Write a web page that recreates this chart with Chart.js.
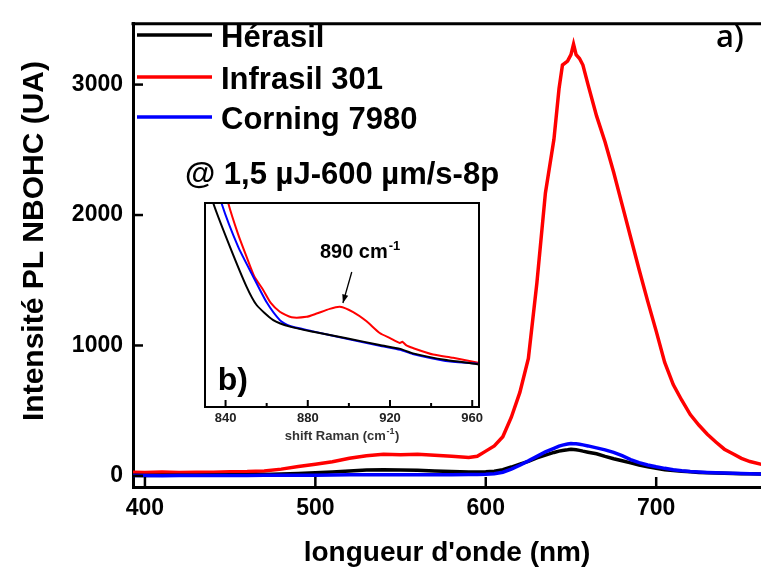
<!DOCTYPE html>
<html>
<head>
<meta charset="utf-8">
<script src="https://cdn.jsdelivr.net/npm/chart.js@4"></script>
<style>
  body { margin: 0; background: #fff; }
  #wrap { position: relative; width: 761px; height: 567px; overflow: hidden; }
  #main { position: absolute; left: 0; top: 0; }
  #inset { position: absolute; left: 195px; top: 195px; }
</style>
</head>
<body>
<div id="wrap">
  <canvas id="main" width="761" height="567"></canvas>
  <canvas id="inset" width="300" height="250"></canvas>
</div>
<script>
const FONT = "'Liberation Sans', Arial, sans-serif";

//******** Main spectrum (PL) ********
const wavelength = [393, 400, 410, 420, 430, 440, 450, 460, 470, 480, 490, 500, 510, 520, 530, 540, 550, 560, 570, 580,
  590, 595, 600, 605, 610, 615, 620, 625, 630, 635, 640, 643, 645, 648, 650, 651.5, 653, 655, 657, 660,
  665, 670, 675, 680, 685, 690, 695, 700, 705, 710, 715, 720, 725, 730, 735, 740, 745, 750, 755, 762];

const herasil = [5, 4, 6, 5, 6, 7, 8, 9, 11, 14, 18, 24, 30, 38, 45, 48, 46, 43, 38, 33,
  30, 30, 31, 36, 48, 68, 90, 112, 138, 160, 180, 190, 195, 200, 204, 202, 200, 196, 190, 182,
  170, 150, 132, 116, 100, 84, 70, 58, 48, 41, 35, 31, 27, 24, 22, 20, 18, 17, 16, 14];

const infrasil = [28, 27, 30, 27, 29, 28, 31, 33, 38, 52, 72, 90, 108, 135, 155, 166, 162, 166, 158, 150,
  142, 150, 190, 230, 300, 450, 640, 900, 1480, 2170, 2580, 2970, 3150, 3180, 3230, 3310, 3230, 3200, 3150, 3000,
  2760, 2560, 2330, 2080, 1830, 1580, 1340, 1110, 870, 700, 580, 470, 390, 320, 260, 205, 170, 135, 110, 88];

const corning = [3, 3, 2, 4, 3, 3, 4, 4, 5, 5, 6, 6, 7, 8, 8, 9, 9, 9, 9, 9,
  10, 10, 12, 16, 28, 52, 82, 115, 150, 185, 212, 228, 236, 244, 248, 247, 246, 243, 238, 230,
  215, 200, 180, 155, 125, 102, 84, 70, 58, 48, 40, 34, 30, 27, 24, 22, 20, 18, 16, 15];

const mainXTicks = [400, 500, 600, 700];
const mainYTicks = [0, 1000, 2000, 3000];

//******** Inset (Raman) ********
const ramanHerasilX = [832, 834, 842.1, 850.2, 855.1, 863.2, 871.3, 882.6, 898.9, 915, 925, 931.2, 947.5, 962, 965];
const ramanHerasilY = [110, 100, 78.6, 59.0, 50.0, 42.6, 39.4, 36.9, 33.7, 30.4, 28.5, 26.3, 23.0, 21.1, 20.5];

const ramanInfrasilX = [838, 841.3, 846, 850.2, 854, 858.3, 862, 866.4, 872.1, 879.4, 884.3, 890.7, 895.6, 902.1,
  908.6, 915, 920, 924.8, 926, 928, 931.2, 941, 950.7, 962.9, 965];
const ramanInfrasilY = [115, 100, 85, 73.7, 64, 57.4, 51, 46.7, 44.0, 44.2, 45.8, 48.1, 49.1, 46.5,
  42.0, 36.3, 33.8, 31.4, 32, 30.2, 28.9, 25.7, 24.1, 21.7, 21.5];

const ramanCorningX = [836, 838, 846.1, 853.4, 860, 866.4, 871, 882, 899, 915, 925, 931, 947, 962, 965];
const ramanCorningY = [110, 100, 78.6, 64.0, 51.3, 42.6, 39.8, 37.2, 33.4, 30.0, 28.0, 26.0, 22.6, 21.3, 20.8];

const insetXTicks = [840, 860, 880, 900, 920, 940, 960];
const insetXLabels = [840, 880, 920, 960];

const pts = (xs, ys) => xs.map((x, i) => ({ x: x, y: ys[i] }));

// frame, inward ticks, legend and texts of the main chart
const mainDecor = {
  id: 'mainDecor',
  afterDraw(chart) {
    const ctx = chart.ctx;
    const a = chart.chartArea;
    const x = chart.scales.x, y = chart.scales.y;
    ctx.save();
    ctx.strokeStyle = '#000';
    ctx.lineWidth = 3;
    ctx.beginPath();
    ctx.moveTo(a.left - 1.5, a.top);
    ctx.lineTo(a.right, a.top);
    ctx.stroke();

    ctx.lineWidth = 2.5;
    mainXTicks.forEach(v => {
      const px = x.getPixelForValue(v);
      ctx.beginPath(); ctx.moveTo(px, a.bottom); ctx.lineTo(px, a.bottom - 10); ctx.stroke();
    });
    mainYTicks.forEach(v => {
      const py = y.getPixelForValue(v);
      ctx.beginPath(); ctx.moveTo(a.left, py); ctx.lineTo(a.left + 10, py); ctx.stroke();
    });

    // y axis title
    ctx.fillStyle = '#000';
    ctx.save();
    ctx.translate(35, 241);
    ctx.rotate(-Math.PI / 2);
    ctx.font = 'bold 30px ' + FONT;
    ctx.textAlign = 'center';
    ctx.textBaseline = 'middle';
    ctx.fillText('Intensité PL NBOHC (UA)', 0, 0);
    ctx.restore();

    // legend
    const rows = [35, 77, 117];
    ctx.font = 'bold 31px ' + FONT;
    ctx.textBaseline = 'alphabetic';
    chart.data.datasets.forEach((ds, i) => {
      ctx.strokeStyle = ds.borderColor;
      ctx.lineWidth = 3.5;
      ctx.beginPath(); ctx.moveTo(a.left + 4, rows[i]); ctx.lineTo(a.left + 79, rows[i]); ctx.stroke();
      ctx.fillStyle = '#000';
      ctx.fillText(ds.label, a.left + 88, rows[i] + 11.5);
    });
    ctx.fillText('@ 1,5 µJ-600 µm/s-8p', 185, 184);

    ctx.font = '600 31px "Open Sans", sans-serif';
    ctx.fillText('a)', 716, 47);
    ctx.restore();
  }
};

new Chart(document.getElementById('main'), {
  type: 'line',
  data: {
    datasets: [
      { label: 'Hérasil', data: pts(wavelength, herasil), borderColor: '#000000', order: 1 },
      { label: 'Infrasil 301', data: pts(wavelength, infrasil), borderColor: '#ff0000', order: 2 },
      { label: 'Corning 7980', data: pts(wavelength, corning), borderColor: '#0000ff', order: 0 }
    ]
  },
  options: {
    responsive: false,
    animation: false,
    elements: { point: { radius: 0 }, line: { borderWidth: 3.5, tension: 0 } },
    layout: { padding: { top: 12, right: 0, left: 0, bottom: 0 } },
    plugins: { legend: { display: false }, tooltip: { enabled: false } },
    scales: {
      x: {
        type: 'linear', min: 393, max: 761.5,
        afterBuildTicks: s => { s.ticks = mainXTicks.map(v => ({ value: v })); },
        afterFit: s => { s.height = 80; },
        grid: { drawOnChartArea: false, drawTicks: false },
        border: { color: '#000', width: 3 },
        ticks: { color: '#000', font: { family: FONT, size: 23, weight: 'bold' }, padding: 8, maxRotation: 0,
          callback: v => String(v) },
        title: { display: true, text: "longueur d'onde (nm)", color: '#000',
          font: { family: FONT, size: 28, weight: 'bold', lineHeight: 1 }, padding: 0 }
      },
      y: {
        type: 'linear', min: -85, max: 3466,
        afterBuildTicks: s => { s.ticks = mainYTicks.map(v => ({ value: v })); },
        afterFit: s => { s.width = 133; },
        grid: { drawOnChartArea: false, drawTicks: false },
        border: { color: '#000', width: 3 },
        ticks: { color: '#000', font: { family: FONT, size: 23, weight: 'bold' }, padding: 10,
          callback: v => String(v) }
      }
    }
  },
  plugins: [mainDecor]
});

// frame, ticks, axis title and annotations of the inset
function supText(ctx, main, sup, x, yBase, size) {
  ctx.font = 'bold ' + size + 'px ' + FONT;
  ctx.fillText(main, x, yBase);
  const w = ctx.measureText(main).width;
  ctx.font = 'bold ' + Math.round(size * 0.65) + 'px ' + FONT;
  ctx.fillText(sup, x + w + 1, yBase - size * 0.42);
  return w + 1 + ctx.measureText(sup).width;
}

const insetDecor = {
  id: 'insetDecor',
  afterDraw(chart) {
    const ctx = chart.ctx;
    const a = chart.chartArea;
    const x = chart.scales.x, y = chart.scales.y;
    ctx.save();
    ctx.strokeStyle = '#000';
    ctx.lineWidth = 2;
    ctx.strokeRect(a.left, a.top, a.right - a.left, a.bottom - a.top);
    insetXTicks.forEach(v => {
      const px = x.getPixelForValue(v);
      const len = insetXLabels.includes(v) ? 7 : 4;
      ctx.beginPath(); ctx.moveTo(px, a.bottom); ctx.lineTo(px, a.bottom - len); ctx.stroke();
    });

    // axis title with superscript
    ctx.fillStyle = '#333';
    ctx.textBaseline = 'alphabetic';
    ctx.font = 'bold 13px ' + FONT;
    const w1 = ctx.measureText('shift Raman (cm').width;
    ctx.font = 'bold 9px ' + FONT;
    const w2 = ctx.measureText('-1').width;
    ctx.font = 'bold 13px ' + FONT;
    const w3 = ctx.measureText(')').width;
    let tx = (a.left + a.right) / 2 - (w1 + w2 + w3 + 1) / 2;
    const ty = 245;
    ctx.fillText('shift Raman (cm', tx, ty);
    ctx.font = 'bold 9px ' + FONT;
    ctx.fillText('-1', tx + w1 + 0.5, ty - 6);
    ctx.font = 'bold 13px ' + FONT;
    ctx.fillText(')', tx + w1 + w2 + 1, ty);

    // 890 cm-1 label and arrow
    ctx.fillStyle = '#000';
    supText(ctx, '890 cm', '-1', x.getPixelForValue(885.9), y.getPixelForValue(73), 20);
    const x0 = x.getPixelForValue(901.4), y0 = y.getPixelForValue(66.2);
    const x1 = x.getPixelForValue(897.1), y1 = y.getPixelForValue(51.0);
    ctx.lineWidth = 1.3;
    ctx.beginPath(); ctx.moveTo(x0, y0); ctx.lineTo(x1, y1); ctx.stroke();
    const ang = Math.atan2(y1 - y0, x1 - x0);
    ctx.beginPath();
    ctx.moveTo(x1, y1);
    ctx.lineTo(x1 - 9 * Math.cos(ang - 0.35), y1 - 9 * Math.sin(ang - 0.35));
    ctx.lineTo(x1 - 9 * Math.cos(ang + 0.35), y1 - 9 * Math.sin(ang + 0.35));
    ctx.closePath();
    ctx.fill();

    ctx.font = 'bold 32px ' + FONT;
    ctx.fillText('b)', x.getPixelForValue(836.2), y.getPixelForValue(8.3));
    ctx.restore();
  }
};

new Chart(document.getElementById('inset'), {
  type: 'line',
  data: {
    datasets: [
      { label: 'Hérasil', data: pts(ramanHerasilX, ramanHerasilY), borderColor: '#000000', order: 0 },
      { label: 'Infrasil 301', data: pts(ramanInfrasilX, ramanInfrasilY), borderColor: '#ff0000', order: 2 },
      { label: 'Corning 7980', data: pts(ramanCorningX, ramanCorningY), borderColor: '#0000ff', order: 1 }
    ]
  },
  options: {
    responsive: false,
    animation: false,
    elements: { point: { radius: 0 }, line: { borderWidth: 2, tension: 0.2 } },
    layout: { padding: { left: 10, top: 8, right: 16, bottom: 0 } },
    plugins: { legend: { display: false }, tooltip: { enabled: false } },
    scales: {
      x: {
        type: 'linear', min: 830, max: 963.3,
        afterBuildTicks: s => { s.ticks = insetXTicks.map(v => ({ value: v })); },
        afterFit: s => { s.height = 38; },
        grid: { drawOnChartArea: false, drawTicks: false },
        border: { display: false },
        ticks: { color: '#222', font: { family: FONT, size: 13, weight: 'bold' }, padding: 4,
          maxRotation: 0, autoSkip: false,
          callback: v => insetXLabels.includes(v) ? String(v) : '' }
      },
      y: { display: false, min: 0, max: 100 }
    }
  },
  plugins: [insetDecor]
});
</script>
</body>
</html>
